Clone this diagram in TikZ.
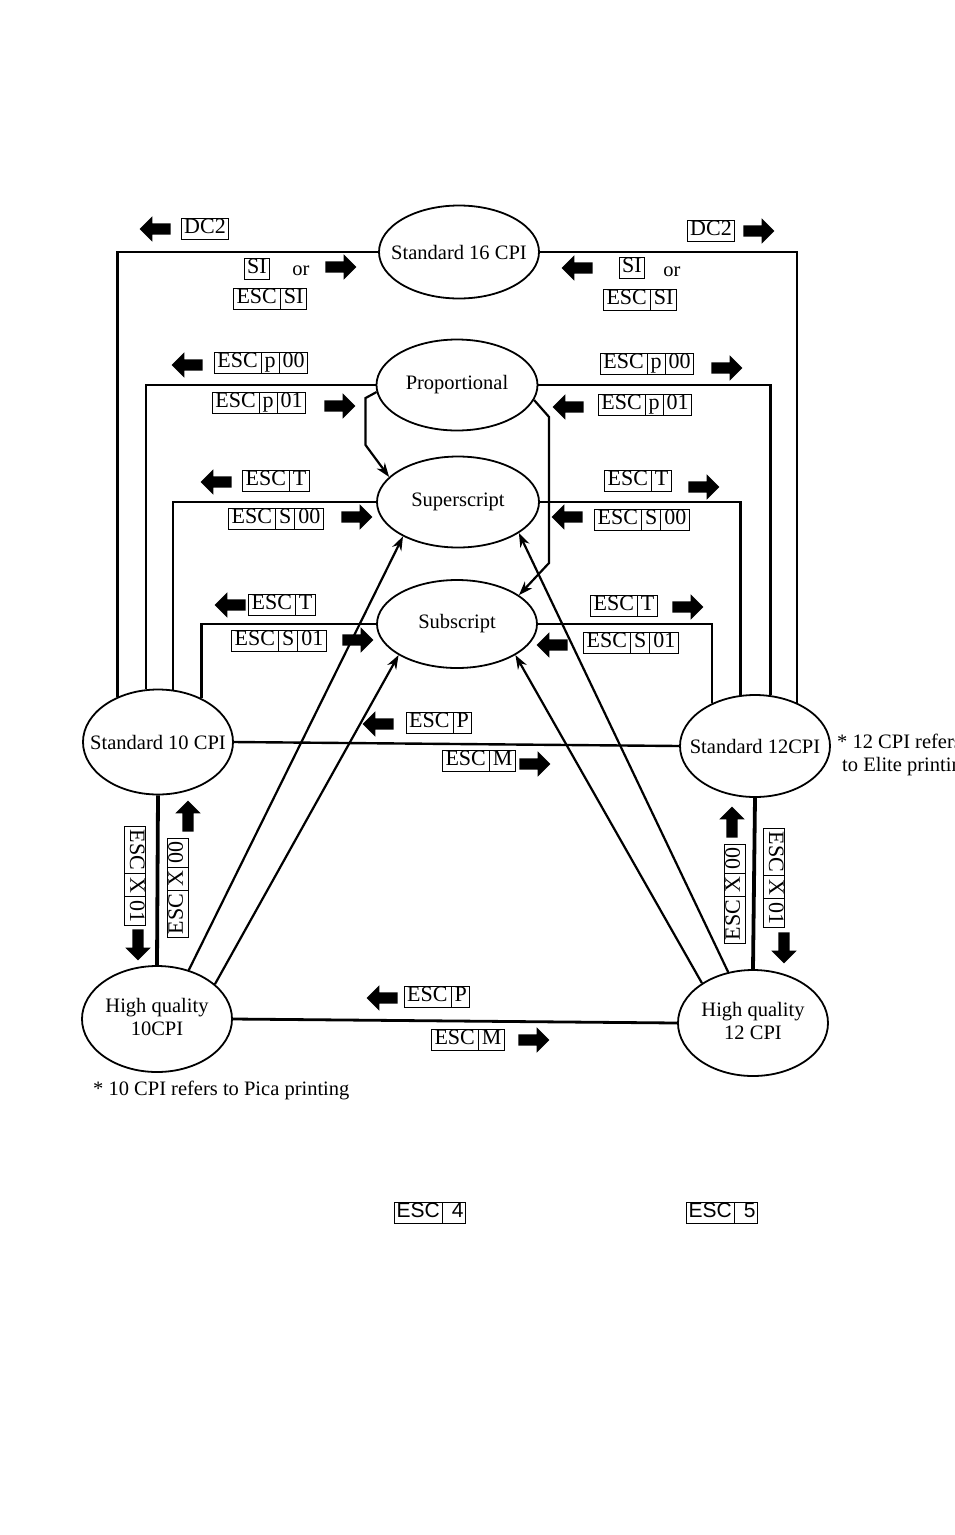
\documentclass[tikz,border=0pt]{standalone}
\usepackage{fontspec}
\setmainfont{Liberation Serif}
\newfontfamily\keysans{Liberation Sans}
\usetikzlibrary{shapes.geometric,shapes.multipart,shapes.arrows,arrows.meta}
\newcommand\onel[1]{\makebox[0pt]{#1}}
\newcommand\twol[2]{\makebox[0pt]{\begin{tabular}{@{}c@{}}#1\\#2\end{tabular}}}
\newcommand\ks{\rule[-5pt]{0pt}{19.5pt}}
\begin{document}
\begin{tikzpicture}[x=1pt,y=-1pt,
  state/.style={ellipse,draw,line width=1.8pt,inner sep=0pt,font=\fontsize{20.5}{23}\selectfont},
  key/.style={rectangle split,rectangle split horizontal,draw,line width=1pt,inner xsep=3pt,inner ysep=0.5pt,font=\fontsize{22}{24}\selectfont},
  key1/.style={rectangle,draw,line width=1pt,inner xsep=3pt,inner ysep=0.5pt,font=\fontsize{22}{24}\selectfont},
  conn/.style={line width=2.4pt},
  heavy/.style={line width=3.8pt},
  tip/.style={line width=2.2pt,-{Stealth[length=14pt,width=10pt]}},
  blk/.style={single arrow,fill=black,draw=none,inner sep=5.5pt,minimum height=31pt,single arrow head extend=7pt},
  L/.style={blk,shape border rotate=180},
  R/.style={blk},
  U/.style={blk,shape border rotate=90},
  D/.style={blk,shape border rotate=270},
  txt/.style={font=\fontsize{20.5}{23}\selectfont,inner sep=0pt},
]
\path[use as bounding box] (0,0) rectangle (954,1535);
\clip (0,0) rectangle (954,1535);

% states
\node[state,minimum width=160pt,minimum height=93pt] (s16) at (459,252) {\onel{Standard 16 CPI}};
\node[state,minimum width=161pt,minimum height=91pt] (prop) at (457,385) {\onel{Proportional}};
\node[state,minimum width=162pt,minimum height=91pt] (sup) at (458,502) {\onel{Superscript}};
\node[state,minimum width=160pt,minimum height=88pt] (sub) at (457,624) {\onel{Subscript}};
\node[state,minimum width=150pt,minimum height=105pt] (s10) at (158,742) {\onel{Standard 10 CPI}};
\node[state,minimum width=150pt,minimum height=102pt] (s12) at (755,746) {\onel{Standard 12CPI}};
\node[state,minimum width=150pt,minimum height=106pt] (hq10) at (157,1019) {\twol{High quality}{10CPI}};
\node[state,minimum width=150pt,minimum height=106pt] (hq12) at (753,1023) {\twol{High quality}{12 CPI}};

% connectors
\draw[conn] (s16.west) -| (s10.132);
\draw[conn] (s16.east) -| (s12.46);
\draw[conn] (prop.west) -| (s10.103);
\draw[conn] (prop.east) -| (s12.73);
\draw[conn] (sup.west) -| (s10.74);
\draw[conn] (sup.east) -| (s12.106);
\draw[conn] (sub.west) -| (s10.45);
\draw[conn] (sub.east) -| (s12.135);
\draw[conn] (s10.east) -- (s12.west);
\draw[heavy] (s10.south) -- (hq10.north);
\draw[heavy] (s12.south) -- (hq12.north);
\draw[line width=2.8pt] (hq10.east) -- (hq12.west);
\draw[tip] (hq10.57) -- (sup.212);
\draw[tip] (hq10.31) -- (sub.208);
\draw[tip] (hq12.116) -- (sup.333);
\draw[tip] (hq12.142) -- (sub.332);
\draw[tip] (prop.185) -- ++(-11,6) -- ++(0,47) -- (sup.160);
\draw[tip] (prop.349) -- ++(15,17) -- ++(0,146) -- (sub.25);

% key labels
\node[key1] (k1) at (205,229) {\ks DC2};
\node[key1] (k2) at (257,269) {\ks SI};
\node[txt] (or1) at (301,271) {or};
\node[key,rectangle split parts=2] (k3) at (270,299) {\ks ESC\nodepart{two}\ks SI};
\node[key1] (k4) at (711,231) {\ks DC2};
\node[key1] (k5) at (632,268) {\ks SI};
\node[txt] (or2) at (672,272) {or};
\node[key,rectangle split parts=2] (k6) at (640,300) {\ks ESC\nodepart{two}\ks SI};

\node[key,rectangle split parts=3] (k7) at (261,363) {\ks ESC\nodepart{two}\ks p\nodepart{three}\ks 00};
\node[key,rectangle split parts=3] (k8) at (259,403) {\ks ESC\nodepart{two}\ks p\nodepart{three}\ks 01};
\node[key,rectangle split parts=3] (k9) at (647,364) {\ks ESC\nodepart{two}\ks p\nodepart{three}\ks 00};
\node[key,rectangle split parts=3] (k10) at (645,405) {\ks ESC\nodepart{two}\ks p\nodepart{three}\ks 01};

\node[key,rectangle split parts=2] (k11) at (276,481) {\ks ESC\nodepart{two}\ks T};
\node[key,rectangle split parts=3] (k12) at (276,519) {\ks ESC\nodepart{two}\ks S\nodepart{three}\ks 00};
\node[key,rectangle split parts=2] (k13) at (638,481) {\ks ESC\nodepart{two}\ks T};
\node[key,rectangle split parts=3] (k14) at (642,520) {\ks ESC\nodepart{two}\ks S\nodepart{three}\ks 00};

\node[key,rectangle split parts=2] (k15) at (282,605) {\ks ESC\nodepart{two}\ks T};
\node[key,rectangle split parts=3] (k16) at (279,641) {\ks ESC\nodepart{two}\ks S\nodepart{three}\ks 01};
\node[key,rectangle split parts=2] (k17) at (624,606) {\ks ESC\nodepart{two}\ks T};
\node[key,rectangle split parts=3] (k18) at (631,643) {\ks ESC\nodepart{two}\ks S\nodepart{three}\ks 01};

\node[key,rectangle split parts=2] (k19) at (439,723) {\ks ESC\nodepart{two}\ks P};
\node[key,rectangle split parts=2] (k20) at (479,761) {\ks ESC\nodepart{two}\ks M};

\node[key,rectangle split parts=3,rotate=-90] (k21) at (135,876) {\ks ESC\nodepart{two}\ks X\nodepart{three}\ks 01};
\node[key,rectangle split parts=3,rotate=90] (k22) at (178,888) {\ks ESC\nodepart{two}\ks X\nodepart{three}\ks 00};
\node[key,rectangle split parts=3,rotate=90] (k23) at (735,894) {\ks ESC\nodepart{two}\ks X\nodepart{three}\ks 00};
\node[key,rectangle split parts=3,rotate=-90] (k24) at (774,878) {\ks ESC\nodepart{two}\ks X\nodepart{three}\ks 01};

\node[key,rectangle split parts=2] (k25) at (437,997) {\ks ESC\nodepart{two}\ks P};
\node[key,rectangle split parts=2] (k26) at (468,1040) {\ks ESC\nodepart{two}\ks M};

\node[key,rectangle split parts=2,inner xsep=2pt,font=\keysans\fontsize{21}{24}\selectfont] (k27) at (430,1213) {\ks ESC\nodepart{two}\ks\hspace{7pt}4\hspace{7pt}};
\node[key,rectangle split parts=2,inner xsep=2pt,font=\keysans\fontsize{21}{24}\selectfont] (k28) at (722,1213) {\ks ESC\nodepart{two}\ks\hspace{7pt}5\hspace{7pt}};

% block arrows
\node[L] (a1) at (158,229) {};
\node[R] (a2) at (756,231) {};
\node[R] (a3) at (338,267) {};
\node[L] (a4) at (580,268) {};
\node[L] (a5) at (190,365) {};
\node[R] (a6) at (337,406) {};
\node[R] (a7) at (724,368) {};
\node[L] (a8) at (571,407) {};
\node[L] (a9) at (219,482) {};
\node[R] (a10) at (354,517) {};
\node[R] (a11) at (701,487) {};
\node[L] (a12) at (570,517) {};
\node[L] (a13) at (233,605) {};
\node[R] (a14) at (355,640) {};
\node[R] (a15) at (685,607) {};
\node[L] (a16) at (555,645) {};
\node[L] (a17) at (381,724) {};
\node[R] (a18) at (532,764) {};
\node[D] (a19) at (138,942) {};
\node[U] (a20) at (188,819) {};
\node[U] (a21) at (732,825) {};
\node[D] (a22) at (784,945) {};
\node[L] (a23) at (385,998) {};
\node[R] (a24) at (531,1040) {};

% footnotes
\node[txt,anchor=west] (fn10) at (93,1090) {* 10 CPI refers to Pica printing};
\node[txt,anchor=north west,align=left] (fn12) at (837,734) {* 12 CPI refers\\\hspace*{5pt}to Elite printing};
\end{tikzpicture}
\end{document}
